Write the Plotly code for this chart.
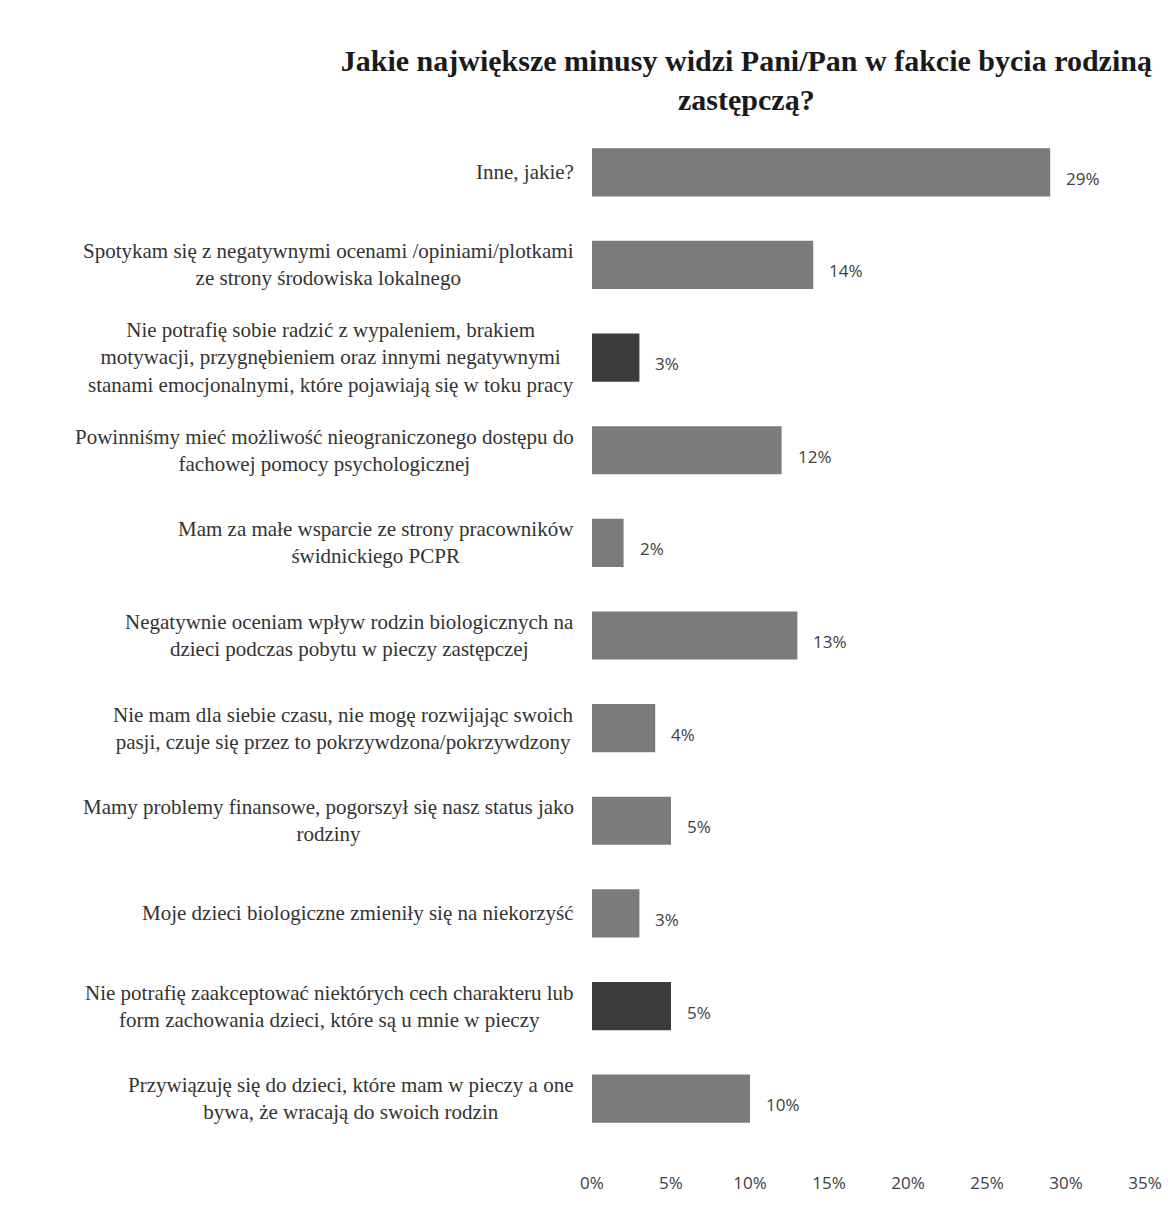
import plotly.graph_objects as go

categories = [
    "Inne, jakie?",
    "Spotykam się z negatywnymi ocenami /opiniami/plotkami<br>ze strony środowiska lokalnego",
    "Nie potrafię sobie radzić z wypaleniem, brakiem<br>motywacji, przygnębieniem oraz innymi negatywnymi<br>stanami emocjonalnymi, które pojawiają się w toku pracy",
    "Powinniśmy mieć możliwość nieograniczonego dostępu do<br>fachowej pomocy psychologicznej",
    "Mam za małe wsparcie ze strony pracowników<br>świdnickiego PCPR",
    "Negatywnie oceniam wpływ rodzin biologicznych na<br>dzieci podczas pobytu w pieczy zastępczej",
    "Nie mam dla siebie czasu, nie mogę rozwijając swoich<br>pasji, czuje się przez to pokrzywdzona/pokrzywdzony",
    "Mamy problemy finansowe, pogorszył się nasz status jako<br>rodziny",
    "Moje dzieci biologiczne zmieniły się na niekorzyść",
    "Nie potrafię zaakceptować niektórych cech charakteru lub<br>form zachowania dzieci, które są u mnie w pieczy",
    "Przywiązuję się do dzieci, które mam w pieczy a one<br>bywa, że wracają do swoich rodzin",
]
values = [29, 14, 3, 12, 2, 13, 4, 5, 3, 5, 10]
highlight = [False, False, True, False, False, False, False, False, False, True, False]
x_ticks = [0, 5, 10, 15, 20, 25, 30, 35]
x_tick_labels = ["0%", "5%", "10%", "15%", "20%", "25%", "30%", "35%"]
title_lines = ["Jakie największe minusy widzi Pani/Pan w fakcie bycia rodziną", "zastępczą?"]

ids = list(range(len(categories)))
colors = ["#3c3c3c" if h else "#7b7b7b" for h in highlight]

fig = go.Figure(go.Bar(
    x=values, y=ids, orientation="h",
    marker=dict(color=colors, line=dict(width=0)),
    width=0.52, hoverinfo="skip",
))

for i, (c, v) in enumerate(zip(categories, values)):
    fig.add_annotation(x=0, y=i, xref="paper", yref="y", text=c,
                       xanchor="right", yanchor="middle", align="center",
                       xshift=-16, showarrow=False,
                       font=dict(family="Liberation Serif", size=21, color="#333333"))
    fig.add_annotation(x=v, y=i, xref="x", yref="y", text=f"{v}%",
                       xanchor="left", yanchor="middle", xshift=14, yshift=-6,
                       showarrow=False,
                       font=dict(family="Open Sans", size=17, color="#404040"))

fig.update_layout(
    width=1172, height=1231,
    margin=dict(l=584, r=35, t=118, b=94),
    paper_bgcolor="white", plot_bgcolor="white",
    showlegend=False,
    title=dict(text="<br>".join(f"<b>{t}</b>" for t in title_lines),
               x=0.63, xref="container", xanchor="center",
               y=0.949, yref="container", yanchor="top",
               font=dict(family="Liberation Serif", size=30, color="#1a1a1a")),
    xaxis=dict(range=[0, 35], tickvals=x_ticks, ticktext=x_tick_labels,
               showgrid=False, zeroline=False, showline=False, ticks="",
               ticklabelstandoff=26,
               tickfont=dict(family="Open Sans", size=17, color="#404040")),
    yaxis=dict(range=[len(categories) - 0.5, -0.5], showticklabels=False,
               showgrid=False, zeroline=False, showline=False, ticks=""),
)

fig.write_html("out.html")
